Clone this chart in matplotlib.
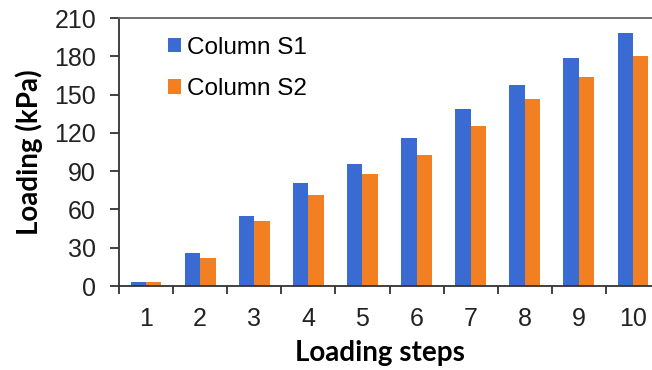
import numpy as np
import matplotlib
matplotlib.use('Agg')
import matplotlib.pyplot as plt

steps = ['1', '2', '3', '4', '5', '6', '7', '8', '9', '10']
col_s1 = [3, 26, 55, 80.5, 95.5, 116, 139, 157.5, 179, 198]
col_s2 = [3, 22, 51, 71, 87.5, 102.5, 125.5, 146.5, 164, 180.5]

c_s1 = '#3a6bd2'
c_s2 = '#f27f22'

plt.rcParams['font.family'] = ['Liberation Sans', 'DejaVu Sans']

fig = plt.figure(figsize=(6.52, 3.70), dpi=100)
ax = fig.add_axes([119/652, 84/370, 541/652, 268/370])

x = np.arange(len(steps))
w = 0.285
ax.bar(x - w/2, col_s1, width=w, color=c_s1, label='Column S1')
ax.bar(x + w/2, col_s2, width=w, color=c_s2, label='Column S2')

ax.set_xlim(-0.5, len(steps) - 0.5)
ax.set_ylim(0, 210)
ax.set_yticks(np.arange(0, 211, 30))
ax.set_xticks(x)
ax.set_xticklabels(steps)
ax.set_xticks(np.arange(-0.5, len(steps)), minor=True)
ax.tick_params(axis='x', which='major', length=0, labelsize=18, pad=15, colors='#222222')
ax.tick_params(axis='x', which='minor', length=6, width=1.3, color='#333333')
ax.tick_params(axis='y', length=6.5, width=1.3, color='#333333', labelsize=18, pad=10,
               labelcolor='#222222')

for s in ['left', 'bottom']:
    ax.spines[s].set_color('#333333')
    ax.spines[s].set_linewidth(1.3)
ax.spines['top'].set_color('#666666')
ax.spines['top'].set_linewidth(1.3)
ax.spines['right'].set_visible(False)

lab_font = dict(family=['Lato', 'DejaVu Sans'], fontweight='bold', fontsize=20)
ax.set_xlabel('Loading steps', labelpad=8, **lab_font)
ax.xaxis.set_label_coords(0.482, -0.2, transform=ax.transAxes)
ax.xaxis.label.set_va('top')
ax.set_ylabel('Loading (kPa)', labelpad=8, **lab_font)

ax.legend(loc='upper left', bbox_to_anchor=(0.09, 0.93), frameon=False, fontsize=17.5,
          borderpad=0, borderaxespad=0,
          handlelength=0.55, handleheight=0.55, handletextpad=0.25, labelspacing=0.8)

fig.savefig('out.png', dpi=100)
